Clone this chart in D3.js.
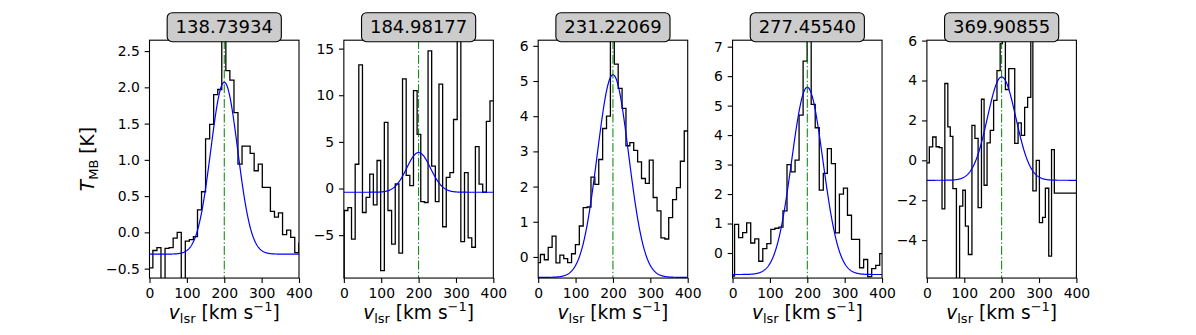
<!doctype html>
<html lang="en">
<head>
<meta charset="utf-8">
<title>Line fits</title>
<script src="https://cdn.jsdelivr.net/npm/d3@7"></script>
<style>
body{margin:0;background:#fff;}
svg{display:block;font-family:"DejaVu Sans",sans-serif;}
</style>
</head>
<body>
<script>
// panel titles (rest frequency, GHz)
var freqs = ["138.73934", "184.98177", "231.22069", "277.45540", "369.90855"];

// spectra: start velocity of each channel step [km/s] and T_MB [K]
var vel1 = [-2, 9, 19.9, 30.7, 41.6, 52.4, 63.3, 74.1, 85, 95.8, 106.7, 117.5, 128.4, 139.2, 150, 161, 171.7, 182.6, 193.4, 204.3, 215, 226, 236.7, 247.6, 258.4, 269.3, 280, 291, 301.8, 312.7, 323.5, 334.4, 345, 356, 367, 377.8, 388.7, 399.5, 410];
var tmb1 = [-0.49, -0.25, -0.21, -0.75, -0.22, -0.21, -0.08, 0.0, -0.75, -0.12, -0.10, -0.06, 0.31, 0.56, 1.29, 1.49, 1.90, 1.97, 2.9, 2.23, 2.10, 1.65, 0.94, 1.19, 1.19, 1.09, 0.85, 0.94, 0.62, 0.62, 0.29, 0.21, 0.27, -0.03, 0.03, -0.07, -0.28, -0.15];

var vel2 = [-5, 1, 10.8, 20.5, 30.3, 40, 49.8, 59.5, 69.3, 79, 88.8, 98.5, 108.3, 118, 127.8, 137.5, 147.3, 157, 166.8, 176.5, 186.3, 196, 205.8, 215.5, 225.3, 235, 244.8, 254.5, 264.3, 274, 283.8, 293.5, 303.3, 313, 322.8, 332.5, 342.3, 352, 361.8, 371.5, 381.3, 391, 410];
var tmb2 = [-12, -2.36, -2.04, -5.43, 2.6, 13.25, -2.57, -0.96, 1.54, -1.75, 3.0, -8.8, 7.1, -2.36, -5.96, 0.5, -6.93, 11.75, 1.4, 0.3, 10.5, 5.8, -1.4, -1.5, 14.75, 2.4, -1.4, 11.2, -4.1, 1.2, 1.7, 7.4, 17, -5.7, 1.7, -5.3, -6.3, 4.5, 0.46, -0.4, 7.2, 9.4];

var vel3 = [-5, 6, 16.4, 26.8, 37.2, 47.6, 58, 68.4, 78.8, 89.2, 99.6, 110, 120.4, 130.8, 141.2, 151.6, 162, 172.4, 182.8, 193.2, 203.6, 214, 224.4, 234.8, 245.2, 255.6, 266, 276.4, 286.8, 297.2, 307.6, 318, 328.4, 338.8, 349.2, 359.6, 370, 380.4, 390.8, 410];
var tmb3 = [-0.16, 0.07, -0.08, 0.27, 0.59, -0.17, 0.05, -0.05, -0.16, 0.09, 0.35, 0.88, 1.4, 1.42, 2.27, 2.06, 2.77, 3.65, 4.0, 6.5, 5.48, 4.79, 4.22, 3.16, 3.25, 3.03, 2.7, 2.23, 2.09, 2.75, 1.69, 1.31, 0.54, 0.51, 1.12, 1.63, 1.97, 2.72, 3.58];

var vel4 = [-5, 5.4, 16.2, 27, 37.8, 48.6, 59.4, 70.1, 80.9, 91.7, 102.5, 113.3, 124.1, 134.9, 145.7, 156.5, 167.3, 178, 188.8, 199.6, 210.4, 221.2, 232, 242.8, 253.6, 264.4, 275.2, 285.9, 296.7, 307.5, 318.3, 329.1, 339.9, 350.7, 361.5, 372.3, 383.1, 393.8, 410];
var tmb4 = [-0.78, 0.97, 0.52, 0.69, 1.02, 0.34, 0.48, -0.28, 0.15, 0.32, 0.8, 0.84, 0.88, 1.43, 3.0, 2.75, 3.15, 4.68, 6.51, 7.6, 5.04, 4.25, 2.13, 2.7, 3.54, 3.03, 0.68, 2.0, 2.2, 1.28, 0.46, 0.46, -0.5, -0.22, -0.8, -0.53, -0.42, -0.02];

var vel5 = [-5, 6.5, 15.5, 24.5, 33, 40.5, 48, 56, 62.5, 69.5, 79, 87.5, 96, 103, 111, 120.5, 128.5, 137, 146, 153, 161, 169.5, 178.5, 187.5, 196, 202, 210, 219, 227, 235, 244, 252.5, 261.5, 269.5, 278, 283.5, 292.5, 301, 309.5, 317, 326, 333.5, 341, 410];
var tmb5 = [-0.13, 0.67, 1.17, 0.68, 0.64, -2.43, 3.85, 1.68, 1.2, -1.42, -7, -2.3, -1.5, -3.3, -4.72, 1.75, 1.1, -2.37, 3.06, -1.25, 0.87, 1.5, 3.0, 4.5, 5.85, 6.5, 3.55, 4.6, 4.6, 0.85, 1.88, 1.25, 2.65, 3.15, 6.5, -1.53, 0.0, -3.12, -2.86, -1.4, -4.8, 0.54, -1.64];

// gaussian fit parameters per panel
var fitBase   = [-0.30, -0.40, -0.58, -0.73, -1.00];
var fitAmp    = [2.37, 4.25, 5.76, 6.35, 5.18];
var fitCenter = [200, 200, 200, 200, 200];
var fitSigma  = [36, 32, 42, 42, 38];
var vSys = 200;

// axes limits and ticks
var xDomain = [0, 400];
var xTicks = [0, 100, 200, 300, 400];
var yDomains = [[-0.63, 2.65], [-9.6, 15.9], [-0.6, 6.16], [-0.85, 7.22], [-5.9, 6.02]];
var yTicks = [[-0.5, 0, 0.5, 1, 1.5, 2, 2.5], [-5, 0, 5, 10, 15], [0, 1, 2, 3, 4, 5, 6], [0, 1, 2, 3, 4, 5, 6, 7], [-4, -2, 0, 2, 4, 6]];
var yFormats = [".1f", "d", "d", "d", "d"];

var spectra = [[vel1, tmb1], [vel2, tmb2], [vel3, tmb3], [vel4, tmb4], [vel5, tmb5]];

var W = 1196, H = 335;
var figLeft = 0.125 * W, figRight = 0.9 * W, wspace = 0.3;
var axW = (figRight - figLeft) / (5 + 4 * wspace), gap = axW * wspace;
var axTop = 40.2, axBottom = 278.05, axH = axBottom - axTop;
var tickLen = 4.86, tickFont = 13.9;

var svg = d3.select("body").append("svg")
    .attr("width", W)
    .attr("height", H);

var x = d3.scaleLinear().domain(xDomain).range([0, axW]);

spectra.forEach(function(s, i) {
  var left = figLeft + i * (axW + gap);
  var y = d3.scaleLinear().domain(yDomains[i]).range([axH, 0]);
  var g = svg.append("g").attr("transform", "translate(" + left + "," + axTop + ")");

  g.append("clipPath").attr("id", "clip" + i)
    .append("rect").attr("width", axW).attr("height", axH);

  var plot = g.append("g").attr("clip-path", "url(#clip" + i + ")");

  var vel = s[0], t = s[1];
  var pts = vel.map(function(v, k) { return [v, t[Math.min(k, t.length - 1)]]; });
  var step = d3.line()
      .x(function(d) { return x(d[0]); })
      .y(function(d) { return y(d[1]); })
      .curve(d3.curveStepAfter);
  plot.append("path").datum(pts)
    .attr("d", step)
    .attr("fill", "none")
    .attr("stroke", "black")
    .attr("stroke-width", 1.3);

  var vs = d3.range(0, 400.5, 1);
  var fit = d3.line()
      .x(function(v) { return x(v); })
      .y(function(v) {
        var dv = v - fitCenter[i];
        return y(fitBase[i] + fitAmp[i] * Math.exp(-dv * dv / (2 * fitSigma[i] * fitSigma[i])));
      });
  plot.append("path").datum(vs)
    .attr("d", fit)
    .attr("fill", "none")
    .attr("stroke", "blue")
    .attr("stroke-width", 1.2);

  plot.append("line")
    .attr("x1", x(vSys)).attr("x2", x(vSys))
    .attr("y1", 0).attr("y2", axH)
    .attr("stroke", "green")
    .attr("stroke-width", 1)
    .attr("stroke-dasharray", "8.9,2.2,1.4,2.2");

  // axes
  var ya = g.append("g")
    .call(d3.axisLeft(y).tickValues(yTicks[i]).tickFormat(d3.format(yFormats[i]))
      .tickSize(tickLen).tickPadding(4.86));
  var xa = g.append("g").attr("transform", "translate(0," + axH + ")")
    .call(d3.axisBottom(x).tickValues(xTicks).tickFormat(d3.format("d"))
      .tickSize(tickLen).tickPadding(4.86));
  [ya, xa].forEach(function(a) {
    a.select(".domain").remove();
    a.selectAll("line").attr("stroke", "black").attr("stroke-width", 1.1);
    a.selectAll("text").attr("font-size", tickFont).attr("fill", "black")
      .attr("font-family", "DejaVu Sans");
  });

  g.append("rect")
    .attr("width", axW).attr("height", axH)
    .attr("fill", "none")
    .attr("stroke", "black")
    .attr("stroke-width", 1.1);

  // title box
  var box = g.append("rect");
  var tt = g.append("text")
    .attr("x", axW / 2).attr("y", -6.9)
    .attr("text-anchor", "middle")
    .attr("font-size", 18)
    .text(freqs[i]);
  var tw = tt.node().getComputedTextLength();
  box.attr("x", axW / 2 - tw / 2 - 8.4)
    .attr("y", -27.5)
    .attr("width", tw + 16.8)
    .attr("height", 29)
    .attr("rx", 5).attr("ry", 5)
    .attr("fill", "#cccccc")
    .attr("stroke", "black")
    .attr("stroke-width", 1.1);

  // x label
  var xl = g.append("text")
    .attr("x", axW / 2).attr("y", 319 - axTop)
    .attr("text-anchor", "middle")
    .attr("font-size", 18.6);
  xl.append("tspan").attr("font-style", "italic").text("v");
  xl.append("tspan").attr("font-size", 13).attr("dy", 3.8).text("lsr");
  xl.append("tspan").attr("dy", -3.8).text(" [km s");
  xl.append("tspan").attr("font-size", 13).attr("dy", -7.5).text("\u22121");
  xl.append("tspan").attr("dy", 7.5).text("]");
});

// y label
var yl = svg.append("text")
  .attr("transform", "translate(94," + (axTop + axH / 2) + ") rotate(-90)")
  .attr("text-anchor", "middle")
  .attr("font-size", 18.6);
yl.append("tspan").attr("font-style", "italic").text("T");
yl.append("tspan").attr("font-size", 13).attr("dy", 3.8).text("MB");
yl.append("tspan").attr("dy", -3.8).text(" [K]");
</script>
</body>
</html>
